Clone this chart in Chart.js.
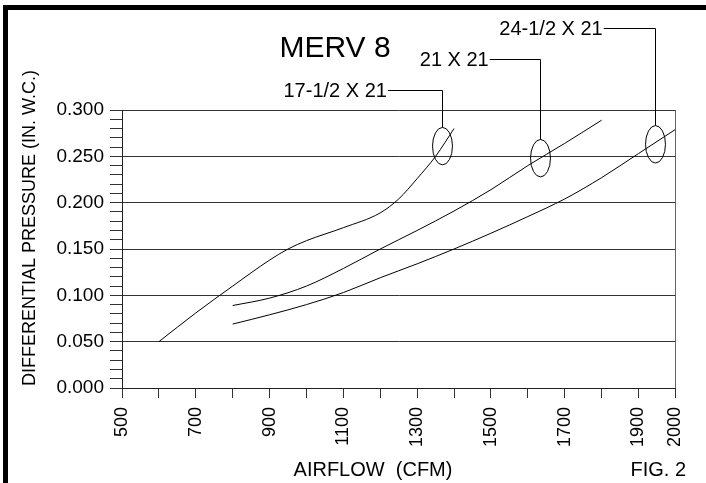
<!DOCTYPE html>
<html>
<head>
<meta charset="utf-8">
<script src="https://cdn.jsdelivr.net/npm/chart.js@4/dist/chart.umd.min.js"></script>
<style>
  html, body { margin:0; padding:0; background:#fff; overflow:hidden; }
  #wrap { position:relative; width:706px; height:483px; }
  #frame { position:absolute; left:3px; top:5px; width:720px; height:476px;
           border-left:5px solid #000; border-top:5px solid #000; border-bottom:5px solid #000; }
  canvas { position:absolute; left:0; top:0; }
</style>
</head>
<body>
<div id="wrap">
  <div id="frame"></div>
  <canvas id="c" width="706" height="483"></canvas>
</div>
<script>
// ---- Data ----
const chartTitle = 'MERV 8';
const xTitle = 'AIRFLOW  (CFM)';
const yTitle = 'DIFFERENTIAL PRESSURE (IN. W.C.)';
const figLabel = 'FIG. 2';

const seriesNames = ['17-1/2 X 21', '21 X 21', '24-1/2 X 21'];

const airflow17 = [600, 700, 800, 900, 950, 1000, 1100, 1200, 1250, 1300, 1350, 1400];
const pressure17 = [0.050, 0.081, 0.110, 0.138, 0.150, 0.159, 0.173, 0.189, 0.204, 0.226, 0.250, 0.280];

const airflow21 = [800, 900, 1000, 1100, 1200, 1300, 1400, 1500, 1600, 1700, 1800];
const pressure21 = [0.089, 0.097, 0.110, 0.129, 0.150, 0.170, 0.191, 0.214, 0.240, 0.264, 0.289];

const airflow24 = [800, 900, 1000, 1100, 1200, 1300, 1400, 1500, 1600, 1700, 1800, 1900, 2000];
const pressure24 = [0.069, 0.079, 0.090, 0.103, 0.119, 0.134, 0.150, 0.167, 0.185, 0.204, 0.227, 0.253, 0.279];

// x tick labels shown (others are unlabeled ticks every 100)
const xLabeledTicks = [500, 700, 900, 1100, 1300, 1500, 1700, 1900, 2000];

// callout markers (data coordinates)
const calloutCenterX = [1368, 1633, 1946];
const calloutCenterY = [0.261, 0.248, 0.263];
const calloutLabelY = [0.322, 0.355, 0.389];
const calloutLabelEndX = [1218, 1494, 1803];

function toPts(xs, ys) { return xs.map((x, i) => ({x: x, y: ys[i]})); }

const FONT = '"Liberation Sans", Arial, Helvetica, sans-serif';

const annotationPlugin = {
  id: 'annot',
  afterDraw(chart) {
    const ctx = chart.ctx;
    const xs = chart.scales.x, ys = chart.scales.y;
    ctx.save();
    ctx.fillStyle = '#000';
    ctx.strokeStyle = '#000';
    ctx.lineWidth = 1;
    // title
    ctx.font = '30px ' + FONT;
    ctx.textAlign = 'center';
    ctx.textBaseline = 'alphabetic';
    ctx.fillText(chartTitle, 335, 57);
    // axis titles
    ctx.font = '20px ' + FONT;
    ctx.fillText(xTitle, 373, 476);
    ctx.textAlign = 'right';
    ctx.fillText(figLabel, 686, 476);
    ctx.save();
    ctx.translate(30, 228);
    ctx.rotate(-Math.PI / 2);
    ctx.font = '18px ' + FONT;
    ctx.textAlign = 'center';
    ctx.textBaseline = 'middle';
    ctx.fillText(yTitle, 0, 0);
    ctx.restore();
    // callouts
    const rx = xs.getPixelForValue(1027) - xs.getPixelForValue(1000);
    const ry = ys.getPixelForValue(0) - ys.getPixelForValue(0.0202);
    ctx.font = '20px ' + FONT;
    ctx.textAlign = 'right';
    ctx.textBaseline = 'middle';
    for (let i = 0; i < seriesNames.length; i++) {
      const cx = Math.round(xs.getPixelForValue(calloutCenterX[i])) + 0.5;
      const cy = ys.getPixelForValue(calloutCenterY[i]);
      const ly = Math.round(ys.getPixelForValue(calloutLabelY[i])) + 0.5;
      const lx = xs.getPixelForValue(calloutLabelEndX[i]);
      ctx.fillText(seriesNames[i], lx, ly + 1);
      ctx.beginPath();
      ctx.moveTo(lx + 1, ly);
      ctx.lineTo(cx, ly);
      ctx.lineTo(cx, cy - ry);
      ctx.stroke();
      ctx.beginPath();
      ctx.ellipse(cx, cy, rx, ry, 0, 0, Math.PI * 2);
      ctx.stroke();
    }
    ctx.restore();
  }
};

const lineStyle = {
  borderColor: '#000', borderWidth: 1, pointRadius: 0, fill: false,
  tension: 0.4, cubicInterpolationMode: 'monotone'
};

new Chart(document.getElementById('c'), {
  type: 'line',
  data: {
    datasets: [
      Object.assign({label: seriesNames[0], data: toPts(airflow17, pressure17)}, lineStyle),
      Object.assign({label: seriesNames[1], data: toPts(airflow21, pressure21)}, lineStyle),
      Object.assign({label: seriesNames[2], data: toPts(airflow24, pressure24)}, lineStyle)
    ]
  },
  options: {
    responsive: false,
    animation: false,
    devicePixelRatio: 1,
    layout: { padding: { left: 0, top: 110, right: 28, bottom: 0 } },
    plugins: { legend: { display: false }, tooltip: { enabled: false }, title: { display: false } },
    scales: {
      x: {
        type: 'linear', min: 500, max: 2000,
        afterFit(scale) { scale.height = 95; },
        border: { display: true, color: '#222', width: 1 },
        grid: {
          color: ctx => (ctx.tick && ctx.tick.value === 2000) ? '#666' : 'rgba(0,0,0,0)',
          tickColor: '#333', tickLength: 10, drawTicks: true
        },
        ticks: {
          stepSize: 100, autoSkip: false, minRotation: 90, maxRotation: 90,
          padding: 9, color: '#000',
          font: { family: FONT, size: 18 },
          callback: v => xLabeledTicks.includes(v) ? String(v) : ''
        }
      },
      y: {
        type: 'linear', min: 0, max: 0.3,
        afterFit(scale) { scale.width = 122; },
        border: { display: true, color: '#222', width: 1 },
        grid: {
          color: ctx => (ctx.tick && Math.round(ctx.tick.value * 1000) % 50 === 0) ? '#333' : 'rgba(0,0,0,0)',
          tickColor: '#333', tickLength: 12
        },
        ticks: {
          stepSize: 0.01, autoSkip: false, padding: 6, color: '#000',
          font: { family: FONT, size: 19 },
          callback: v => (Math.round(v * 1000) % 50 === 0) ? v.toFixed(3) : ''
        }
      }
    }
  },
  plugins: [annotationPlugin]
});
</script>
</body>
</html>
